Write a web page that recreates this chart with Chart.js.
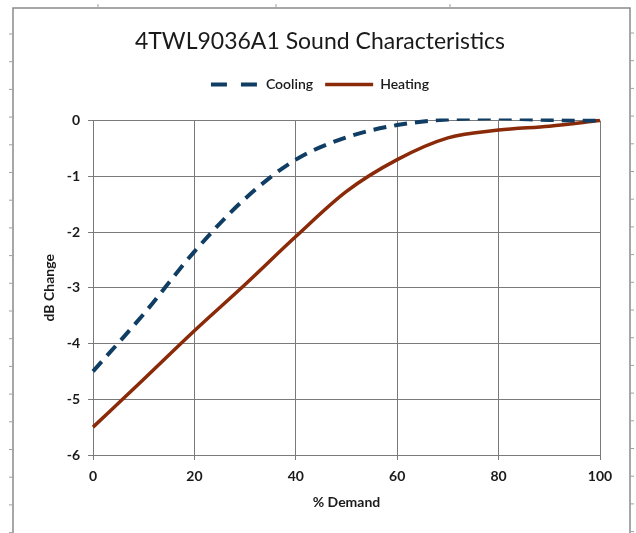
<!DOCTYPE html>
<html>
<head>
<meta charset="utf-8">
<script src="https://cdn.jsdelivr.net/npm/chart.js@4.4.1/dist/chart.umd.min.js"></script>
<style>
  html, body { margin: 0; padding: 0; background: #fff; }
  #wrap { width: 636px; height: 533px; }
</style>
</head>
<body>
<div id="wrap"><canvas id="chart" width="636" height="533"></canvas></div>
<script>
const demand = [0, 10, 20, 30, 40, 50, 60, 70, 80, 90, 100];
const cooling = [-4.5, -3.47, -2.35, -1.4, -0.7, -0.3, -0.08, 0.02, 0.04, 0.01, 0];
const heating = [-5.5, -4.64, -3.77, -2.94, -2.08, -1.27, -0.7, -0.31, -0.17, -0.1, 0];
const xTicks = [0, 20, 40, 60, 80, 100];
const yTicks = [0, -1, -2, -3, -4, -5, -6];

const FONT = 'Lato, "Open Sans", sans-serif';
const points = arr => arr.map((v, i) => ({ x: demand[i], y: v }));

// the grey sheet frame round the chart (scan decoration)
const framePlugin = {
  id: 'frame',
  beforeDraw(chart) {
    const ctx = chart.ctx;
    ctx.save();
    ctx.fillStyle = '#fff';
    ctx.fillRect(0, 0, chart.width, chart.height);
    ctx.strokeStyle = '#8a8a8a';
    ctx.lineWidth = 1.5;
    ctx.beginPath();
    ctx.moveTo(13, chart.height);
    ctx.lineTo(13, 8);
    ctx.lineTo(630, 8);
    ctx.lineTo(630, chart.height);
    ctx.stroke();
    ctx.lineWidth = 1;
    ctx.strokeStyle = '#a0a0a0';
    ctx.beginPath();
    for (let y = 34; y < chart.height; y += 27.7) {
      ctx.moveTo(9, y); ctx.lineTo(13, y);
      ctx.moveTo(630, y - 1); ctx.lineTo(634, y - 1);
    }
    [98, 276, 450].forEach(x => { ctx.moveTo(x, 4); ctx.lineTo(x, 8); });
    ctx.stroke();
    ctx.restore();
  }
};

// extra room under the legend row, like the Excel layout
const legendGap = {
  id: 'legendGap',
  beforeUpdate(chart) {
    const lg = chart.legend;
    if (lg && !lg._gap) {
      const fit = lg.fit;
      lg.fit = function () { fit.call(this); this.height += 19; };
      lg._gap = true;
    }
  }
};

new Chart(document.getElementById('chart'), {
  type: 'line',
  data: {
    datasets: [{
      label: 'Cooling',
      data: points(cooling),
      borderColor: '#0f3d63',
      backgroundColor: '#0f3d63',
      borderWidth: 4,
      borderDash: [13, 8],
      pointRadius: 0,
      cubicInterpolationMode: 'monotone',
      clip: 2
    }, {
      label: 'Heating',
      data: points(heating),
      borderColor: '#8a2a08',
      backgroundColor: '#8a2a08',
      borderWidth: 3.5,
      pointRadius: 0,
      cubicInterpolationMode: 'monotone',
      clip: 2
    }]
  },
  options: {
    responsive: false,
    animation: false,
    layout: { padding: { left: 40, right: 36, top: 9, bottom: 18 } },
    plugins: {
      title: {
        display: true,
        text: '4TWL9036A1 Sound Characteristics',
        color: '#1a1a1a',
        font: { family: FONT, size: 23, weight: 'normal' },
        padding: { top: 19, bottom: 10 }
      },
      legend: {
        display: true,
        labels: {
          color: '#1a1a1a',
          font: { family: FONT, size: 14, weight: '600' },
          usePointStyle: true,
          pointStyle: 'line',
          pointStyleWidth: 48,
          boxHeight: 12,
          padding: 12,
          generateLabels: chart => {
            const items = Chart.defaults.plugins.legend.labels.generateLabels(chart);
            items.forEach(it => {
              const ds = chart.data.datasets[it.datasetIndex];
              it.lineWidth = ds.borderWidth;
              it.lineDash = ds.borderDash ? [16, 14] : [];
            });
            return items;
          }
        }
      },
      tooltip: { enabled: false }
    },
    scales: {
      x: {
        type: 'linear',
        min: 0,
        max: 100,
        afterFit: s => { s.height = 60; },
        afterBuildTicks: s => { s.ticks = xTicks.map(v => ({ value: v })); },
        grid: { color: '#7a7a7a', lineWidth: 1, tickLength: 5 },
        border: { color: '#7a7a7a' },
        ticks: { color: '#1a1a1a', font: { family: FONT, size: 14, weight: 'bold' }, padding: 8, maxRotation: 0 },
        title: { display: true, text: '% Demand', color: '#1a1a1a', font: { family: FONT, size: 14, weight: 'bold' }, padding: { top: 0, bottom: 4 } }
      },
      y: {
        min: -6,
        max: 0,
        afterFit: s => { s.width = 53; },
        afterBuildTicks: s => { s.ticks = yTicks.map(v => ({ value: v })); },
        grid: { color: '#7a7a7a', lineWidth: 1, tickLength: 5 },
        border: { color: '#7a7a7a' },
        ticks: { color: '#1a1a1a', font: { family: FONT, size: 14, weight: 'bold' }, padding: 8 },
        title: { display: true, text: 'dB Change', color: '#1a1a1a', font: { family: FONT, size: 14, weight: 'bold' }, padding: { top: 1, bottom: 0 } }
      }
    }
  },
  plugins: [framePlugin, legendGap]
});
</script>
</body>
</html>
